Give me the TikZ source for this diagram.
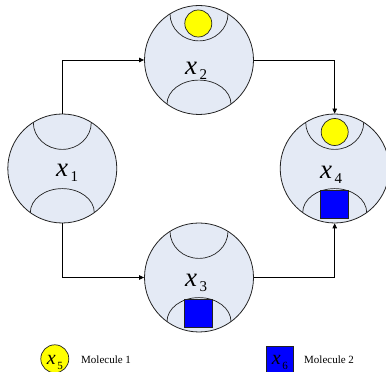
\documentclass[tikz,border=0pt]{standalone}
\usepackage{fontspec}
\setmainfont{Liberation Serif}
\usetikzlibrary{arrows.meta,calc}

\definecolor{cellfill}{RGB}{228,234,245}
\definecolor{inkline}{RGB}{34,34,34}
\definecolor{molA}{RGB}{255,255,0}
\definecolor{molB}{RGB}{0,0,255}

% variable name with a detached subscript
\newcommand{\cellvar}[1]{{\fontsize{27}{27}\selectfont\itshape x}\hspace{2.5pt}\raisebox{-5pt}{\fontsize{15}{15}\selectfont #1}}
\newcommand{\legvar}[1]{{\fontsize{20}{20}\selectfont\itshape x}\hspace{1.5pt}\raisebox{-5pt}{\fontsize{11}{11}\selectfont #1}}

\tikzset{
  cell/.style={circle, draw=inkline, fill=cellfill, line width=0.8pt,
               minimum size=109pt, inner sep=0pt},
  conn/.style={draw=black, line width=0.8pt, -{Triangle[length=5pt,width=4.5pt]}},
  molone/.style={circle, draw=inkline, fill=molA, line width=0.7pt,
                 minimum size=27pt, inner sep=0pt},
  moltwo/.style={rectangle, draw=inkline, fill=molB, line width=0.7pt,
                 minimum size=27pt, inner sep=0pt},
  lab/.style={inner sep=0pt, anchor=base west},
  legtext/.style={inner sep=0pt, anchor=base west, font=\fontsize{11}{11}\selectfont},
  pics/cups/.style={code={
    \draw[inkline, line width=0.7pt] (-29,46.1) arc[start angle=180, end angle=360, x radius=29pt, y radius=27pt];
    \draw[inkline, line width=0.7pt] (-32,-44.1) arc[start angle=180, end angle=0, x radius=32pt, y radius=24pt];
  }}
}

\begin{document}
\begin{tikzpicture}[x=1pt, y=1pt]
  \useasboundingbox (0,0) rectangle (386,372);

  % four compartments
  \node[cell] (x1) at (62.3,203.5) {};
  \node[cell] (x2) at (199,312) {};
  \node[cell] (x3) at (199,94.5) {};
  \node[cell] (x4) at (334.7,203.5) {};
  \pic at (x1) {cups};
  \pic at (x2) {cups};
  \pic at (x3) {cups};
  \pic at (x4) {cups};

  % bound molecules
  \node[molone] (m2) at ($(x2)+(-0.7,36.5)$) {};
  \node[molone] (m4) at ($(x4)+(0,36.5)$) {};
  \node[moltwo, minimum size=28pt] (s3) at ($(x3)+(-0.7,-35.5)$) {};
  \node[moltwo, minimum size=28pt] (s4) at ($(x4)+(-0.3,-35.5)$) {};

  % variable labels
  \node[lab] (l1) at (56,195.3) {\cellvar{1}};
  \node[lab] (l2) at (185,297) {\cellvar{2}};
  \node[lab] (l3) at (185,85.3) {\cellvar{3}};
  \node[lab] (l4) at (320,193.7) {\cellvar{4}};

  % transitions
  \draw[conn] (x1.north) |- (x2.west);
  \draw[conn] (x1.south) |- (x3.west);
  \draw[conn] (x2.east) -| (x4.north);
  \draw[conn] (x3.east) -| (x4.south);

  % legend
  \node[molone, minimum size=28pt] (k5) at (54.8,13.2) {};
  \node[lab] (k5l) at (46.7,7.7) {\legvar{5}};
  \node[legtext] (t1) at (81,8.7) {Molecule 1};
  \node[moltwo] (k6) at (280,11.8) {};
  \node[lab] (k6l) at (271.7,7) {\legvar{6}};
  \node[legtext] (t2) at (304,8.7) {Molecule 2};
\end{tikzpicture}
\end{document}
